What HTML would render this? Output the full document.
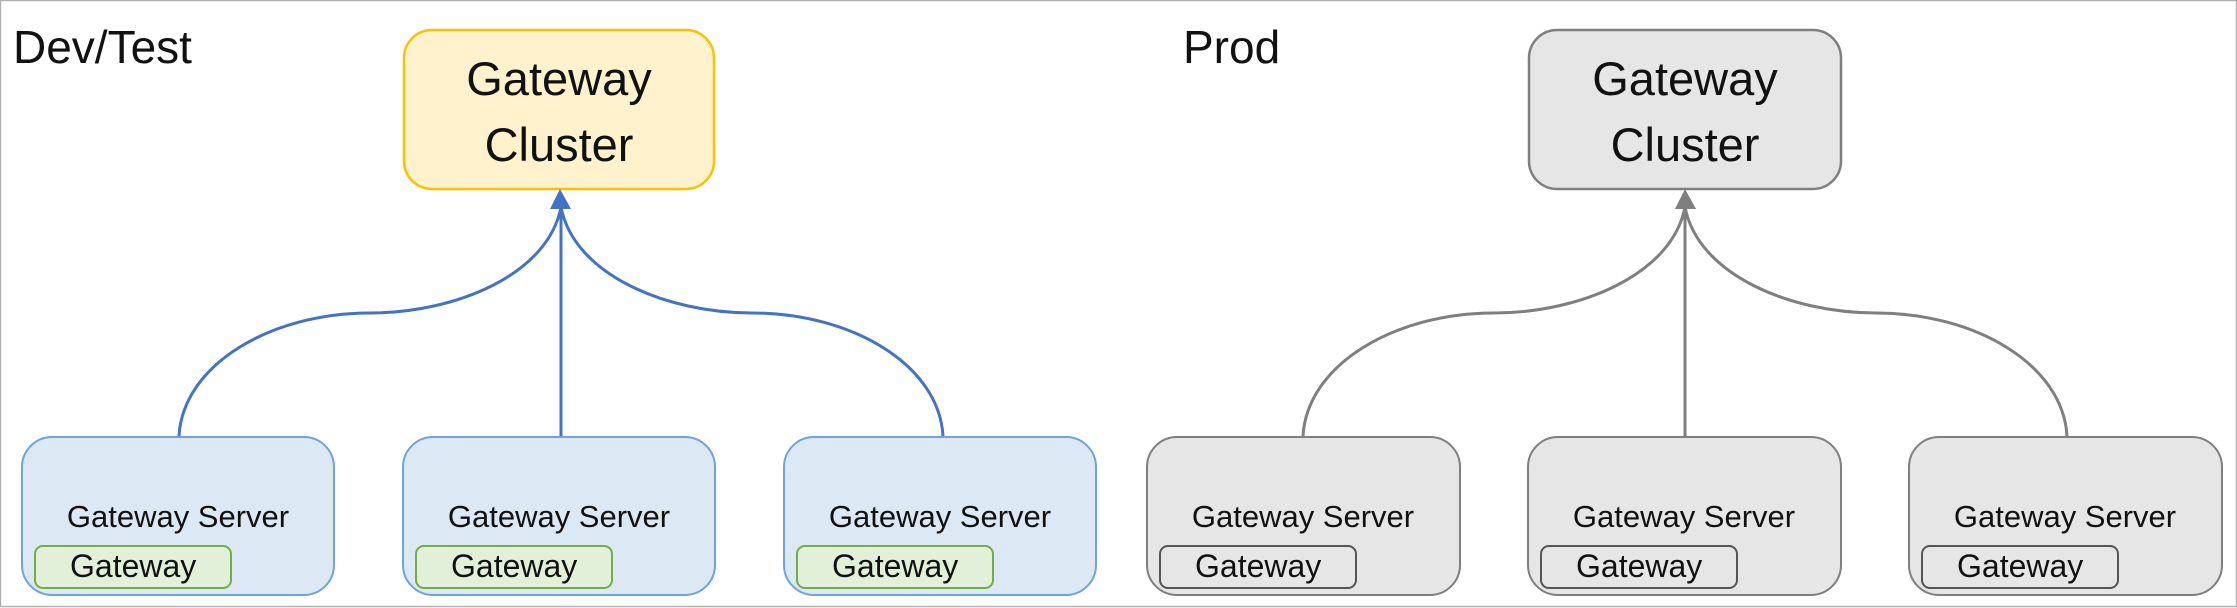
<!DOCTYPE html>
<html><head><meta charset="utf-8"><style>
html,body{margin:0;padding:0;background:#fff}
svg{display:block}
text{font-family:"Liberation Sans",sans-serif;fill:#111}
</style></head><body>
<svg width="2237" height="608" viewBox="0 0 2237 608" xmlns="http://www.w3.org/2000/svg">
<rect x="0.5" y="0.5" width="2236" height="606" fill="#fff" stroke="#b0b0b0" stroke-width="1.5"/>
<text x="13" y="63" font-size="46">Dev/Test</text>
<text x="1183" y="63" font-size="46">Prod</text>

<!-- Dev/Test -->
<rect x="404" y="30" width="310" height="159" rx="28" fill="#fff2cc" stroke="#ffc000" stroke-width="2.5"/>
<text x="559" y="95" font-size="47" text-anchor="middle">Gateway</text>
<text x="559" y="161" font-size="47" text-anchor="middle">Cluster</text>
<g fill="none" stroke="#4472c4" stroke-width="3">
<path d="M179,436 C183,365 270,313 370,313 C455,313 548,275 561,207"/>
<path d="M943,436 C939,365 852,313 752,313 C667,313 574,275 561,207"/>
<path d="M561,436 L561,205"/>
</g>
<polygon points="560,189 550,209 571,209" fill="#4472c4"/>
<g>
<rect x="22" y="437" width="312" height="158" rx="30" fill="#dde8f5" stroke="#6fa3dc" stroke-width="2"/>
<rect x="35" y="546" width="196" height="42" rx="8" fill="#e2efd9" stroke="#70ad47" stroke-width="2"/>
<text x="178" y="527" font-size="31" text-anchor="middle">Gateway Server</text>
<text x="70" y="577" font-size="32">Gateway</text>
</g>
<g transform="translate(381,0)">
<rect x="22" y="437" width="312" height="158" rx="30" fill="#dde8f5" stroke="#6fa3dc" stroke-width="2"/>
<rect x="35" y="546" width="196" height="42" rx="8" fill="#e2efd9" stroke="#70ad47" stroke-width="2"/>
<text x="178" y="527" font-size="31" text-anchor="middle">Gateway Server</text>
<text x="70" y="577" font-size="32">Gateway</text>
</g>
<g transform="translate(762,0)">
<rect x="22" y="437" width="312" height="158" rx="30" fill="#dde8f5" stroke="#6fa3dc" stroke-width="2"/>
<rect x="35" y="546" width="196" height="42" rx="8" fill="#e2efd9" stroke="#70ad47" stroke-width="2"/>
<text x="178" y="527" font-size="31" text-anchor="middle">Gateway Server</text>
<text x="70" y="577" font-size="32">Gateway</text>
</g>

<!-- Prod -->
<rect x="1529" y="30" width="312" height="159" rx="28" fill="#e6e6e6" stroke="#7f7f7f" stroke-width="2.5"/>
<text x="1685" y="95" font-size="47" text-anchor="middle">Gateway</text>
<text x="1685" y="161" font-size="47" text-anchor="middle">Cluster</text>
<g fill="none" stroke="#7f7f7f" stroke-width="3">
<path d="M1303,436 C1307,365 1394,313 1494,313 C1579,313 1672,275 1685,207"/>
<path d="M2067,436 C2063,365 1976,313 1876,313 C1791,313 1698,275 1685,207"/>
<path d="M1685,436 L1685,205"/>
</g>
<polygon points="1685,189 1675,209 1696,209" fill="#7f7f7f"/>
<g transform="translate(1125,0)">
<rect x="22" y="437" width="313" height="158" rx="30" fill="#e6e6e6" stroke="#7f7f7f" stroke-width="2"/>
<rect x="35" y="546" width="196" height="42" rx="8" fill="#e6e6e6" stroke="#555" stroke-width="2"/>
<text x="178" y="527" font-size="31" text-anchor="middle">Gateway Server</text>
<text x="70" y="577" font-size="32">Gateway</text>
</g>
<g transform="translate(1506,0)">
<rect x="22" y="437" width="313" height="158" rx="30" fill="#e6e6e6" stroke="#7f7f7f" stroke-width="2"/>
<rect x="35" y="546" width="196" height="42" rx="8" fill="#e6e6e6" stroke="#555" stroke-width="2"/>
<text x="178" y="527" font-size="31" text-anchor="middle">Gateway Server</text>
<text x="70" y="577" font-size="32">Gateway</text>
</g>
<g transform="translate(1887,0)">
<rect x="22" y="437" width="313" height="158" rx="30" fill="#e6e6e6" stroke="#7f7f7f" stroke-width="2"/>
<rect x="35" y="546" width="196" height="42" rx="8" fill="#e6e6e6" stroke="#555" stroke-width="2"/>
<text x="178" y="527" font-size="31" text-anchor="middle">Gateway Server</text>
<text x="70" y="577" font-size="32">Gateway</text>
</g>
</svg>
</body></html>
